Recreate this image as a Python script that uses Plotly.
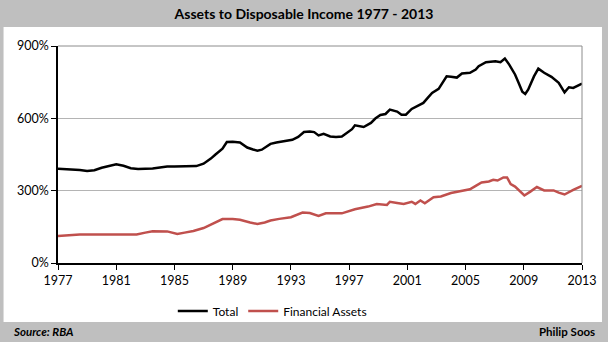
import plotly.graph_objects as go

# Household assets as a share of disposable income (%), read by period
total_years = [1977.0, 1977.5, 1978.0, 1978.5, 1979.0, 1979.5, 1980.0, 1980.5, 1981.0, 1981.5,
               1982.0, 1982.5, 1983.0, 1983.5, 1984.0, 1984.5, 1985.0, 1985.5, 1986.0, 1986.5,
               1987.0, 1987.25, 1987.5, 1987.8, 1988.0, 1988.3, 1988.6, 1989.0, 1989.5, 1990.0,
               1990.4, 1990.7, 1991.0, 1991.25, 1991.6, 1992.0, 1992.6, 1993.1, 1993.5, 1993.9,
               1994.3, 1994.6, 1994.9, 1995.25, 1995.7, 1996.1, 1996.5, 1996.9, 1997.2, 1997.4,
               1998.0, 1998.5, 1998.8, 1999.15, 1999.5, 1999.8, 2000.3, 2000.6, 2000.9, 2001.3,
               2001.7, 2002.1, 2002.4, 2002.7, 2003.15, 2003.4, 2003.7, 2004.0, 2004.4, 2004.75,
               2005.3, 2005.7, 2005.9, 2006.4, 2007.05, 2007.4, 2007.7, 2008.0, 2008.4, 2008.65,
               2008.9, 2009.1, 2009.3, 2009.7, 2010.0, 2010.4, 2010.9, 2011.4, 2011.8, 2012.1,
               2012.4, 2013.0]
total_values = [391, 390, 390, 386, 382, 385, 395, 403, 409, 403,
                393, 390, 390, 392, 396, 400, 400, 400, 400, 402,
                412, 421, 433, 449, 458, 474, 502, 503, 500, 479,
                471, 466, 470, 480, 494, 500, 507, 511, 523, 543,
                545, 543, 529, 536, 525, 523, 525, 543, 555, 571,
                564, 581, 599, 614, 618, 636, 628, 615, 615, 639,
                650, 664, 685, 705, 722, 745, 774, 772, 769, 786,
                789, 802, 816, 833, 837, 833, 848, 823, 782, 747,
                710, 701, 719, 774, 806, 789, 772, 747, 708, 729,
                726, 744]

fin_years = [1977.0, 1978.0, 1978.5, 1980.0, 1981.0, 1982.4, 1983.0, 1983.5, 1984.5, 1985.2,
             1985.7, 1986.3, 1987.0, 1987.5, 1988.0, 1988.3, 1989.0, 1989.5, 1990.2, 1990.7,
             1991.2, 1991.6, 1992.2, 1993.0, 1993.8, 1994.3, 1994.9, 1995.4, 1996.5, 1997.4,
             1998.3, 1998.9, 1999.6, 1999.8, 2000.3, 2000.75, 2001.3, 2001.55, 2001.9, 2002.2,
             2002.8, 2003.3, 2004.0, 2004.6, 2005.3, 2005.7, 2006.1, 2006.6, 2006.9, 2007.2,
             2007.6, 2007.85, 2008.1, 2008.4, 2009.04, 2009.45, 2009.9, 2010.4, 2011.05, 2011.4,
             2011.8, 2012.4, 2013.0]
fin_values = [112, 115, 118, 118, 118, 118, 126, 132, 131, 120,
              126, 133, 145, 158, 172, 182, 182, 179, 168, 162,
              168, 176, 183, 190, 209, 207, 195, 206, 206, 223,
              234, 245, 241, 254, 249, 245, 254, 245, 259, 248,
              273, 276, 290, 296, 306, 320, 334, 338, 345, 342,
              355, 355, 327, 317, 280, 296, 315, 301, 301, 292,
              284, 303, 320]

x_ticks = [1977, 1981, 1985, 1989, 1993, 1997, 2001, 2005, 2009, 2013]
y_ticks = [0, 300, 600, 900]

W, H = 608, 342
PW, PH = 524.5, 217  # plot area size in px
FONT = "Lato"

fig = go.Figure()
fig.add_trace(go.Scatter(x=total_years, y=total_values, mode="lines", name="Total",
                         line=dict(color="#000000", width=2.5)))
fig.add_trace(go.Scatter(x=fin_years, y=fin_values, mode="lines", name="Financial Assets",
                         line=dict(color="#C0504D", width=2.5)))

# white chart panel on the grey frame
fig.add_shape(type="rect", xref="paper", yref="paper", layer="below",
              x0=-54.5 / PW, x1=1 + 20 / PW, y0=-59 / PH, y1=1 + 19 / PH,
              fillcolor="white", line=dict(width=0))
# plot-area border (top and right)
fig.add_shape(type="line", xref="paper", yref="paper", x0=0, x1=1, y0=1, y1=1,
              line=dict(color="#8C8C8C", width=1))
fig.add_shape(type="line", xref="paper", yref="paper", x0=1, x1=1, y0=0, y1=1,
              line=dict(color="#8C8C8C", width=1))

fig.update_layout(
    width=W, height=H,
    margin=dict(l=57.5, r=26, t=46, b=79),
    paper_bgcolor="#BFBFBF", plot_bgcolor="white",
    font=dict(family=FONT, size=12, color="#000000"),
    title=dict(text="<b>Assets to Disposable Income 1977 - 2013</b>", x=0.5, xanchor="center",
               y=1 - 14 / H, yanchor="middle", font=dict(family=FONT, size=14, color="#000000")),
    showlegend=True,
    legend=dict(orientation="h", x=(272 - 57.5) / PW, xanchor="center", y=-48 / PH, yanchor="middle",
                bgcolor="rgba(0,0,0,0)", font=dict(family=FONT, size=12),
                itemwidth=30, tracegroupgap=0),
    xaxis=dict(range=[1977, 2013], tickvals=x_ticks, ticktext=[str(v) for v in x_ticks],
               showgrid=False, zeroline=False, showline=True, linecolor="#000000", linewidth=1.5,
               ticks="outside", ticklen=5, tickcolor="#000000", tickwidth=1,
               tickfont=dict(family=FONT, size=12.5)),
    yaxis=dict(range=[0, 900], tickvals=y_ticks, ticktext=[f"{v}%" for v in y_ticks],
               showgrid=True, gridcolor="#B4B4B4", gridwidth=1, zeroline=False,
               showline=True, linecolor="#000000", linewidth=1.5,
               ticks="outside", ticklen=5, tickcolor="#000000", tickwidth=1,
               tickfont=dict(family=FONT, size=12.5)),
    annotations=[
        dict(text="<b><i>Source: RBA</i></b>", xref="paper", yref="paper",
             x=-47 / PW, xanchor="left", y=-68 / PH, yanchor="middle", showarrow=False,
             font=dict(family=FONT, size=11.5, color="#000000")),
        dict(text="<b>Philip Soos</b>", xref="paper", yref="paper",
             x=1 + 15 / PW, xanchor="right", y=-68 / PH, yanchor="middle", showarrow=False,
             font=dict(family=FONT, size=11.5, color="#000000")),
    ],
)

fig.write_html("out.html")
